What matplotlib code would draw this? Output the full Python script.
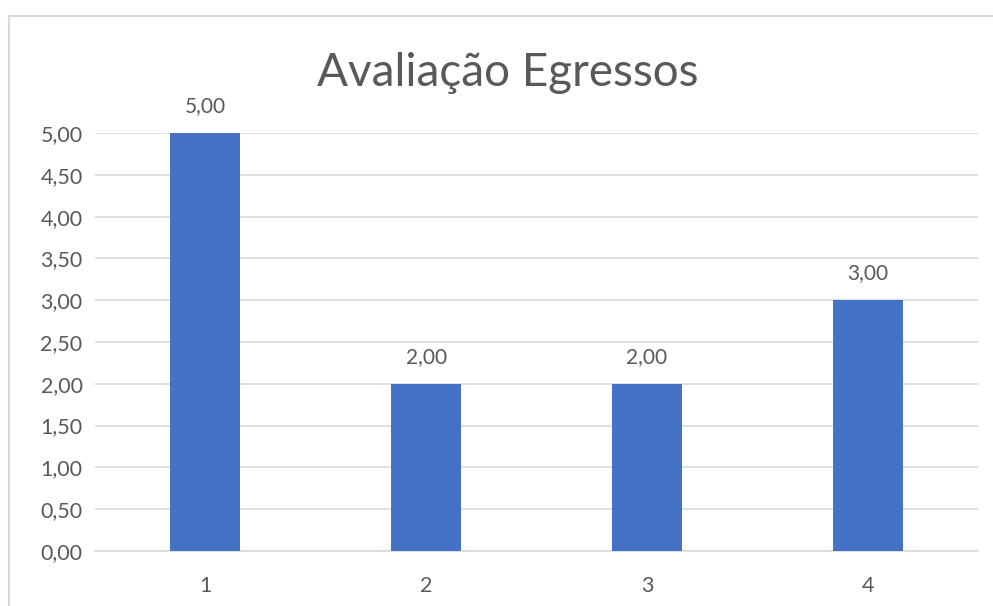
import matplotlib.pyplot as plt
from matplotlib.patches import Rectangle

# dados
categorias = ["1", "2", "3", "4"]
valores = [5.0, 2.0, 2.0, 3.0]
y_ticks = [0.0, 0.5, 1.0, 1.5, 2.0, 2.5, 3.0, 3.5, 4.0, 4.5, 5.0]
titulo = "Avaliação Egressos"

COR_BARRA = "#4472C4"
COR_TEXTO = "#595959"
COR_GRADE = "#D9D9D9"

plt.rcParams['font.family'] = ['Lato', 'DejaVu Sans']

fig = plt.figure(figsize=(9.93, 6.06), dpi=100)
ax = fig.add_axes([0.0957, 0.0908, 0.8893, 0.6897])

# borda da área do gráfico (cortada à direita e embaixo)
fig.patches.append(Rectangle((9 / 993, -0.1), 1.2, 1 - 16 / 606 + 0.1,
                             transform=fig.transFigure, fill=False,
                             edgecolor="#D9D9D9", linewidth=1.5))

x = range(len(categorias))
ax.bar(x, valores, width=0.317, color=COR_BARRA, zorder=3)

for xi, v in zip(x, valores):
    ax.annotate(f"{v:.2f}".replace(".", ","), (xi, v), xytext=(0, 12),
                textcoords="offset points", ha="center", va="bottom",
                fontsize=15, color=COR_TEXTO)

ax.set_xlim(-0.5, len(categorias) - 0.5)
ax.set_ylim(0, 5)
ax.set_xticks(list(x))
ax.set_xticklabels(categorias)
ax.set_yticks(y_ticks)
ax.set_yticklabels([f"{t:.2f}".replace(".", ",") for t in y_ticks])

ax.tick_params(axis="both", length=0, labelsize=15.5, labelcolor=COR_TEXTO)
ax.tick_params(axis="y", pad=9)
ax.tick_params(axis="x", pad=18)

ax.yaxis.grid(True, color=COR_GRADE, linewidth=1.2, zorder=0)
for s in ["top", "right", "left"]:
    ax.spines[s].set_visible(False)
ax.spines["bottom"].set_color(COR_GRADE)
ax.spines["bottom"].set_linewidth(1.2)
ax.set_axisbelow(True)

fig.text(0.511, 1 - 73 / 606, titulo, ha="center", va="center",
         fontsize=33, color=COR_TEXTO)

fig.savefig("out.png", dpi=100)
